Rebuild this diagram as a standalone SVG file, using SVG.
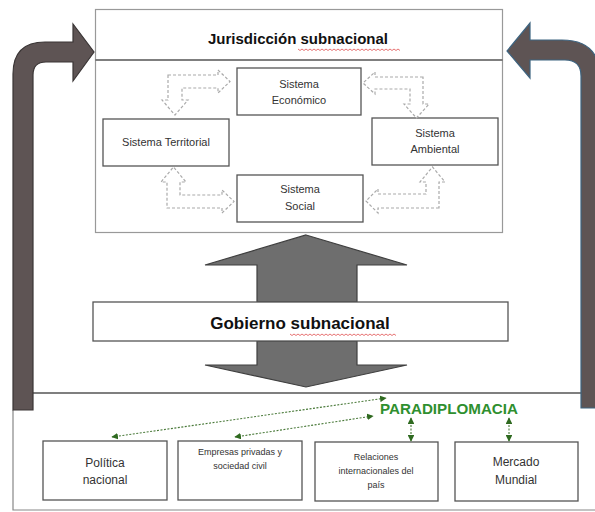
<svg xmlns="http://www.w3.org/2000/svg" width="595" height="512" viewBox="0 0 595 512">
<defs>
<style>
.box{fill:#fff;stroke:#555;stroke-width:1.3}
.t{font-family:"Liberation Sans",Arial,sans-serif;fill:#333;text-anchor:middle}
.dash{fill:#fff;stroke:#aaa;stroke-width:1.2;stroke-dasharray:3 2}
.big{fill:#6e6e6e;stroke:#3f3f3f;stroke-width:1.2}
.grn{stroke:#4a7a3a;stroke-width:1.1;stroke-dasharray:2 1.5;fill:none}
.sq{fill:none;stroke:#e05050;stroke-width:0.8}
</style>
<marker id="ga" viewBox="0 0 10 10" refX="9" refY="5" markerWidth="6" markerHeight="6" orient="auto-start-reverse">
<path d="M0,0 L10,5 L0,10 Z" fill="#2f6a20"/>
</marker>
</defs>
<rect x="0" y="0" width="595" height="512" fill="#fff"/>

<g id="panel-bottom">
<path d="M13,410 L13,510 L595,510" fill="none" stroke="#888" stroke-width="1.2"/>
<line x1="33" y1="393" x2="581" y2="393" stroke="#555" stroke-width="1.3"/>
</g>

<g id="jurisdiccion">
<rect x="95.5" y="9.5" width="407" height="223" fill="#fff" stroke="#999" stroke-width="1.2"/>
<line x1="95.5" y1="60" x2="502.5" y2="60" stroke="#555" stroke-width="1.3"/>
<text class="t" x="298" y="44" font-size="15" font-weight="bold" fill="#111" style="fill:#111">Jurisdicción subnacional</text>
<path class="sq" d="M298,49 l2,1.5 l2,-1.5 l2,1.5 l2,-1.5 l2,1.5 l2,-1.5 l2,1.5 l2,-1.5 l2,1.5 l2,-1.5 l2,1.5 l2,-1.5 l2,1.5 l2,-1.5 l2,1.5 l2,-1.5 l2,1.5 l2,-1.5 l2,1.5 l2,-1.5 l2,1.5 l2,-1.5 l2,1.5 l2,-1.5 l2,1.5 l2,-1.5 l2,1.5 l2,-1.5 l2,1.5 l2,-1.5 l2,1.5 l2,-1.5 l2,1.5 l2,-1.5 l2,1.5 l2,-1.5 l2,1.5 l2,-1.5 l2,1.5 l2,-1.5 l2,1.5 l2,-1.5 l2,1.5 l2,-1.5 l2,1.5 l2,-1.5 l2,1.5 l2,-1.5 l2,1.5 l2,-1.5 l2,1.5"/>
</g>

<g id="sistema-economico">
<rect class="box" x="237" y="68" width="124" height="47"/>
<text class="t" x="299" y="88" font-size="11">Sistema</text>
<text class="t" x="299" y="104" font-size="11">Económico</text>
</g>
<g id="sistema-territorial">
<rect class="box" x="103" y="119" width="126" height="47"/>
<text class="t" x="166" y="146" font-size="11">Sistema Territorial</text>
</g>
<g id="sistema-ambiental">
<rect class="box" x="372" y="118" width="126" height="47"/>
<text class="t" x="435" y="137" font-size="11">Sistema</text>
<text class="t" x="435" y="153" font-size="11">Ambiental</text>
</g>
<g id="sistema-social">
<rect class="box" x="237" y="175" width="126" height="47"/>
<text class="t" x="300" y="193" font-size="11">Sistema</text>
<text class="t" x="300" y="210" font-size="11">Social</text>
</g>

<g id="gobierno">
<polygon class="big" points="306,235 407,265 357,265 357,302 257,302 257,265 205,265"/>
<polygon class="big" points="257,341 357,341 357,365 407,365 306,387 205,365 257,365"/>
<rect class="box" x="93" y="302" width="415" height="39"/>
<text class="t" x="300" y="329" font-size="17" font-weight="bold" style="fill:#111">Gobierno subnacional</text>
<path class="sq" d="M290,334 l2,1.5 l2,-1.5 l2,1.5 l2,-1.5 l2,1.5 l2,-1.5 l2,1.5 l2,-1.5 l2,1.5 l2,-1.5 l2,1.5 l2,-1.5 l2,1.5 l2,-1.5 l2,1.5 l2,-1.5 l2,1.5 l2,-1.5 l2,1.5 l2,-1.5 l2,1.5 l2,-1.5 l2,1.5 l2,-1.5 l2,1.5 l2,-1.5 l2,1.5 l2,-1.5 l2,1.5 l2,-1.5 l2,1.5 l2,-1.5 l2,1.5 l2,-1.5 l2,1.5 l2,-1.5 l2,1.5 l2,-1.5 l2,1.5 l2,-1.5 l2,1.5 l2,-1.5 l2,1.5 l2,-1.5 l2,1.5 l2,-1.5 l2,1.5 l2,-1.5 l2,1.5 l2,-1.5 l2,1.5 l2,-1.5 l2,1.5"/>
</g>

<g id="politica-nacional">
<rect class="box" x="43" y="441" width="124" height="59"/>
<text class="t" x="105" y="467" font-size="12">Política</text>
<text class="t" x="105" y="484" font-size="12">nacional</text>
</g>
<g id="empresas">
<rect class="box" x="178" y="441" width="124" height="59"/>
<text class="t" x="240" y="455" font-size="9">Empresas privadas y</text>
<text class="t" x="240" y="469" font-size="9">sociedad civil</text>
</g>
<g id="relaciones">
<rect class="box" x="315" y="442" width="123" height="59"/>
<text class="t" x="376" y="460" font-size="9">Relaciones</text>
<text class="t" x="376" y="474" font-size="9">internacionales del</text>
<text class="t" x="376" y="488" font-size="9">país</text>
</g>
<g id="mercado-mundial">
<rect class="box" x="455" y="442" width="123" height="59"/>
<text class="t" x="516" y="466" font-size="12">Mercado</text>
<text class="t" x="516" y="484" font-size="12">Mundial</text>
</g>
<g id="paradiplomacia">
<text x="449" y="414" font-family="Liberation Sans,Arial,sans-serif" font-size="14" font-weight="bold" fill="#2f8f2f" text-anchor="middle" textLength="138" lengthAdjust="spacingAndGlyphs">PARADIPLOMACIA</text>
</g>

<g id="connectors">
<path id="curved-left" d="M13,410 L13,74 Q13,42 45,42 L73,42 L73,24 L94,52 L73,81 L73,62 L46,62 Q33,62 33,75 L33,410 Z" fill="#5e5454" stroke="#3a3535" stroke-width="1.2"/>
<path id="curved-right" d="M600,408 L600,78 Q600,40 562,40 L530,40 L530,23 L507,51 L530,78 L530,60 L565,60 Q581,60 581,76 L581,408 Z" fill="#5e5454" stroke="#3d6480" stroke-width="1.2"/>
<polygon class="dash" points="168,75 218,75 218,70 230,81.5 218,93 218,88 182,88 182,100 188,100 175,115 162,100 168,100"/>
<polygon class="dash" points="423,77 375,77 375,72 363,83 375,94 375,89 410,89 410,104 404,104 416.5,118 429,104 423,104"/>
<polygon class="dash" points="167,208 222,208 222,213 234,201.5 222,190 222,195 180,195 180,182 186,182 173.5,167 161,182 167,182"/>
<polygon class="dash" points="439,208 378,208 378,213 366,201 378,189 378,194 426,194 426,182 420,182 432.5,167 445,182 439,182"/>
<line class="grn" x1="112" y1="437" x2="386" y2="398" marker-start="url(#ga)" marker-end="url(#ga)"/>
<line class="grn" x1="235" y1="437" x2="373" y2="416" marker-start="url(#ga)" marker-end="url(#ga)"/>
<line class="grn" x1="411" y1="418" x2="411" y2="441" marker-start="url(#ga)" marker-end="url(#ga)"/>
<line class="grn" x1="509" y1="418" x2="509" y2="441" marker-start="url(#ga)" marker-end="url(#ga)"/>
</g>
</svg>
